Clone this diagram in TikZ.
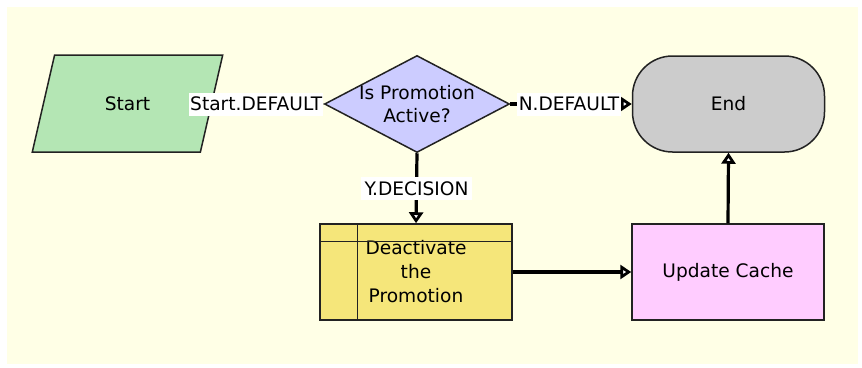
\documentclass[tikz,border=0pt]{standalone}
\usepackage{fontspec}
\setmainfont{DejaVu Sans}
\usetikzlibrary{shapes.geometric,arrows.meta}

\definecolor{canvas}{HTML}{FFFFE6}
\definecolor{startfill}{HTML}{B4E6B4}
\definecolor{decfill}{HTML}{CCCCFF}
\definecolor{endfill}{HTML}{CCCCCC}
\definecolor{subfill}{HTML}{F5E67A}
\definecolor{taskfill}{HTML}{FFCCFF}
\definecolor{edge}{HTML}{222222}

\tikzset{
  shapebox/.style={draw=edge, line width=1.5pt, inner sep=0pt,
    font=\fontsize{18.6}{24}\selectfont, align=center},
  startshape/.style={shapebox, trapezium, trapezium left angle=63.7,
    trapezium right angle=116.3, trapezium stretches=true,
    minimum width=191pt, minimum height=97pt, fill=startfill},
  decshape/.style={shapebox, diamond, minimum width=185pt,
    minimum height=97pt, fill=decfill},
  endshape/.style={shapebox, rectangle, rounded corners=40pt,
    minimum width=192pt, minimum height=96pt, fill=endfill},
  subshape/.style={shapebox, rectangle, minimum width=192pt,
    minimum height=96pt, fill=subfill},
  taskshape/.style={shapebox, rectangle, minimum width=192pt,
    minimum height=96pt, fill=taskfill},
  flow/.style={draw=black, line width=3.2pt,
    -{Triangle[length=11pt,width=14pt,line width=2.8pt,fill=white]}},
  flowlabel/.style={fill=white, inner xsep=1pt, inner ysep=0pt,
    minimum height=23pt, font=\fontsize{18.6}{23}\selectfont}
}

\begin{document}
\begin{tikzpicture}[x=1pt,y=-1pt]
  \useasboundingbox (0,0) rectangle (862,367);
  \fill[canvas] (7,7) rectangle (858,364);

  % shapes
  \node[startshape] (start) at (127.5,103.5) {Start};
  \node[decshape, label={[align=center, font=\fontsize{18.6}{23}\selectfont]center:Is Promotion\\Active?}] (dec) at (417,104) {};
  \node[endshape] (end) at (728.5,104) {End};
  \node[subshape] (deact) at (416,272) {Deactivate\\the\\Promotion};
  \node[taskshape] (update) at (728,272) {Update Cache};

  % sub-process header and side bar
  \draw[draw=edge, line width=1.5pt]
    ([yshift=-18pt]deact.north west) -- ([yshift=-18pt]deact.north east);
  \draw[draw=edge, line width=1.5pt]
    ([xshift=38pt]deact.north west) -- ([xshift=38pt]deact.south west);

  % connectors
  \draw[flow] (start.east) -- (dec.west)
    node[flowlabel, anchor=east, xshift=1pt] (lstart) {Start.DEFAULT};
  \draw[flow] (dec.east) -- (end.west)
    node[flowlabel, midway, inner xsep=2pt, xshift=-2pt] (lno) {N.DEFAULT};
  \draw[flow] (dec.south) -- (deact.north)
    node[flowlabel, midway, inner xsep=4pt] (lyes) {Y.DECISION};
  \draw[flow] (deact.east) -- (update.west);
  \draw[flow] (update.north) -- (end.south);
\end{tikzpicture}
\end{document}
